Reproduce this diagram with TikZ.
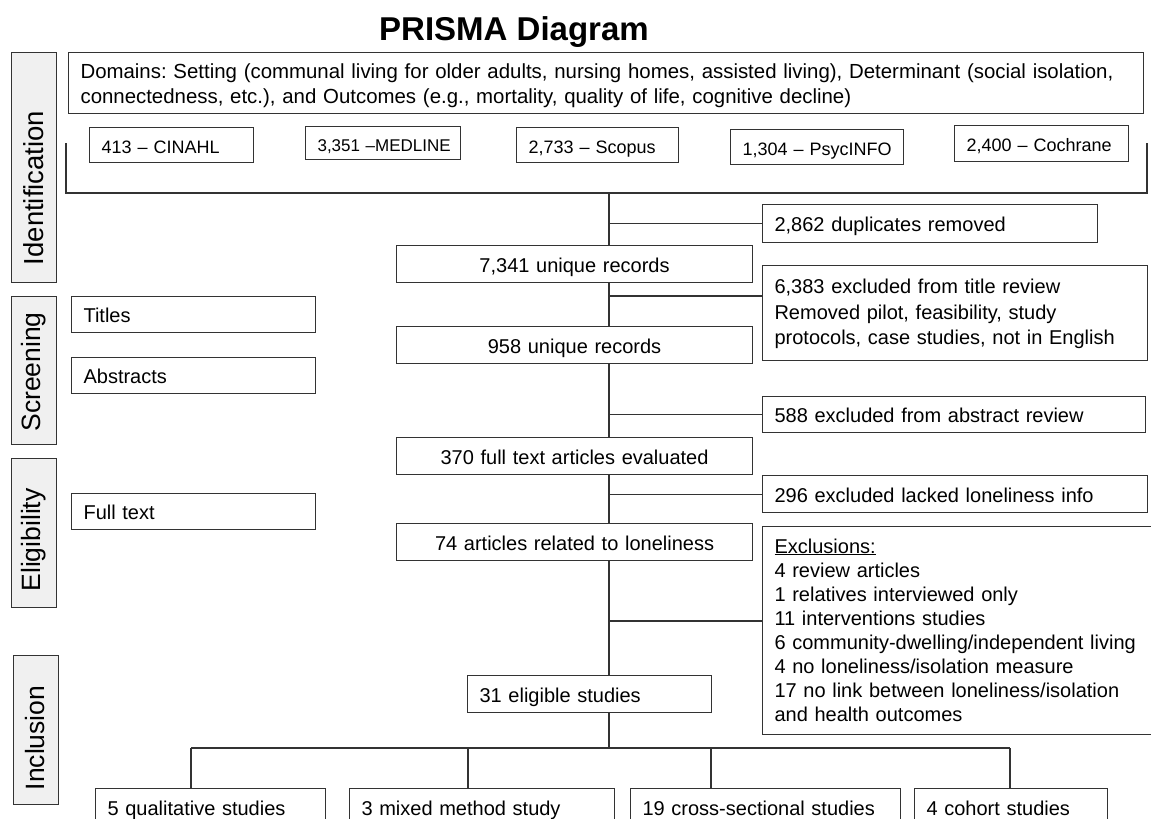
\documentclass[tikz,border=0pt]{standalone}
\usepackage{fontspec}
\setmainfont{Liberation Sans}
\frenchspacing
\newcommand\fsz[2]{\fontsize{#1}{#2}\selectfont}
\newcommand\bstrut{\rule[-3.8pt]{0pt}{24pt}}
\colorlet{linec}{black!80}
\colorlet{sidefill}{black!6}
\begin{document}
\begin{tikzpicture}[x = 1pt, y = -1pt,
	box/.style = {draw = linec, line width = 1.1pt, inner xsep = 12pt, inner ysep = 0pt, anchor = north west, align = left, font = \fsz{20}{24},
		execute at begin node = \bstrut, execute at end node = \bstrut},
	multi/.style = {execute at begin node = \strut, execute at end node = \strut},
	mid/.style = {box, align = center},
	db/.style = {box, font = \fsz{18}{21}},
	side/.style = {draw = linec, fill = sidefill, line width = 1.1pt, anchor = north west, minimum width = 45pt, inner sep = 0pt},
	sidetxt/.style = {rotate = 90, font = \fsz{26.5}{30}},
	conn/.style = {draw = linec, line width = 1.1pt}]
	\useasboundingbox (0, 0) rectangle (1151, 819);
	
	%	title
	\node[font = \fsz{33}{38}\bfseries] (title) at (514, 32) {PRISMA Diagram};
	
	%	phases
	\node[side, minimum height = 230pt] (idbox) at (11, 52) {};
	\node[side, minimum height = 148pt] (scrbox) at (11, 296) {};
	\node[side, minimum height = 149pt] (elgbox) at (11, 458) {};
	\node[side, minimum height = 149pt] (incbox) at (13, 655) {};
	\node[sidetxt, font = \fsz{27.5}{30}] (idtxt) at (33.5, 188) {Identification};
	\node[sidetxt] (scrtxt) at (33.5, 372) {Screening};
	\node[sidetxt] (elgtxt) at (33.5, 540) {Eligibility};
	\node[sidetxt] (inctxt) at (35.5, 738) {Inclusion};
	
	%	search
	\node[box, font = \fsz{20.4}{24}, text width = 1051pt, minimum height = 61pt] (domains) at (68, 52)
		{\mbox{Domains: Setting (communal living for older adults, nursing homes, assisted living), Determinant (social isolation,}\\
		\mbox{connectedness, etc.), and Outcomes (e.g., mortality, quality of life, cognitive decline)}};
	\node[db, text width = 140pt, minimum height = 35pt] (cinahl) at (89, 127) {\mbox{413 -- CINAHL}};
	\node[db, text width = 131pt, minimum height = 33pt, font = \fsz{17}{20}] (medline) at (305, 126) {\mbox{3,351 --MEDLINE}};
	\node[db, text width = 138pt, minimum height = 35pt] (scopus) at (516, 127) {\mbox{2,733 -- Scopus}};
	\node[db, text width = 149pt, minimum height = 35pt] (psycinfo) at (730, 129) {\mbox{1,304 -- PsycINFO}};
	\node[db, text width = 150pt, minimum height = 36pt] (cochrane) at (954, 125) {\mbox{2,400 -- Cochrane}};
	\draw[conn] (66, 143) -- (66, 193) -- (1147, 193) -- (1147, 143);
	
	%	main column
	\node[mid, text width = 332pt, minimum height = 37pt] (rec7341) at (396, 245) {7,341 unique records};
	\node[mid, text width = 332pt, minimum height = 37pt] (rec958) at (396, 326) {958 unique records};
	\node[mid, text width = 332pt, minimum height = 37pt] (full370) at (396, 437) {370 full text articles evaluated};
	\node[mid, text width = 332pt, minimum height = 37pt] (rel74) at (396, 523) {74 articles related to loneliness};
	\node[box, text width = 220pt, minimum height = 37pt] (elig31) at (467, 675) {31 eligible studies};
	
	%	exclusions
	\node[box, text width = 311pt, minimum height = 38pt] (dup) at (762, 204) {2,862 duplicates removed};
	\node[box, multi, text width = 361pt, minimum height = 95pt, font = \fsz{20}{25.5}] (titlerev) at (762, 265)
		{6,383 excluded from title review\\ Removed pilot, feasibility, study\\ protocols, case studies, not in English};
	\node[box, text width = 359pt, minimum height = 36pt] (absrev) at (762, 396) {588 excluded from abstract review};
	\node[box, text width = 361pt, minimum height = 37pt] (lack296) at (762, 475) {296 excluded lacked loneliness info};
	\node[box, multi, text width = 376pt, minimum height = 208pt] (excl) at (762, 526)
		{\underline{Exclusions:}\\ 4 review articles\\ 1 relatives interviewed only\\ 11 interventions studies\\
		6 community-dwelling/independent living\\ 4 no loneliness/isolation measure\\
		17 no link between loneliness/isolation\\ and health outcomes};
	
	%	stages
	\node[box, text width = 220pt, minimum height = 36pt] (titles) at (71, 296) {Titles};
	\node[box, text width = 220pt, minimum height = 36pt] (abstracts) at (71, 357) {Abstracts};
	\node[box, text width = 220pt, minimum height = 36pt] (fulltext) at (71, 493) {Full text};
	
	%	included studies
	\node[box, text width = 206pt, minimum height = 38pt] (qual) at (95, 788) {5 qualitative studies};
	\node[box, text width = 241pt, minimum height = 38pt] (mixed) at (349, 788) {3 mixed method study};
	\node[box, text width = 246pt, minimum height = 38pt] (cross) at (630, 788) {19 cross-sectional studies};
	\node[box, text width = 169pt, minimum height = 38pt] (cohort) at (914, 788) {4 cohort studies};
	
	%	trunk
	\coordinate (trunk) at (609, 193);
	\draw[conn] (trunk) -- (trunk |- rec7341.north);
	\draw[conn] (rec7341.south -| trunk) -- (rec958.north -| trunk);
	\draw[conn] (rec958.south -| trunk) -- (full370.north -| trunk);
	\draw[conn] (full370.south -| trunk) -- (rel74.north -| trunk);
	\draw[conn] (rel74.south -| trunk) -- (elig31.north -| trunk);
	
	%	branches
	\coordinate (jtitle) at (609, 296);
	\coordinate (jexcl) at (609, 621);
	\draw[conn] (trunk |- dup.west) -- (dup.west);
	\draw[conn] (jtitle) -- (jtitle -| titlerev.west);
	\draw[conn] (trunk |- absrev.west) -- (absrev.west);
	\draw[conn] (trunk |- lack296.west) -- (lack296.west);
	\draw[conn] (jexcl) -- (jexcl -| excl.west);
	
	%	split
	\coordinate (barl) at (191, 748);
	\coordinate (barr) at (1010, 748);
	\draw[conn] (elig31.south -| trunk) -- (trunk |- barl);
	\draw[conn] (barl) -- (barr);
	\foreach \x/\n in {191/qual, 468/mixed, 711/cross, 1010/cohort}{
		\coordinate (d\n) at (\x, 748);
		\draw[conn] (d\n) -- (d\n |- \n.north);
	}
\end{tikzpicture}
\end{document}
